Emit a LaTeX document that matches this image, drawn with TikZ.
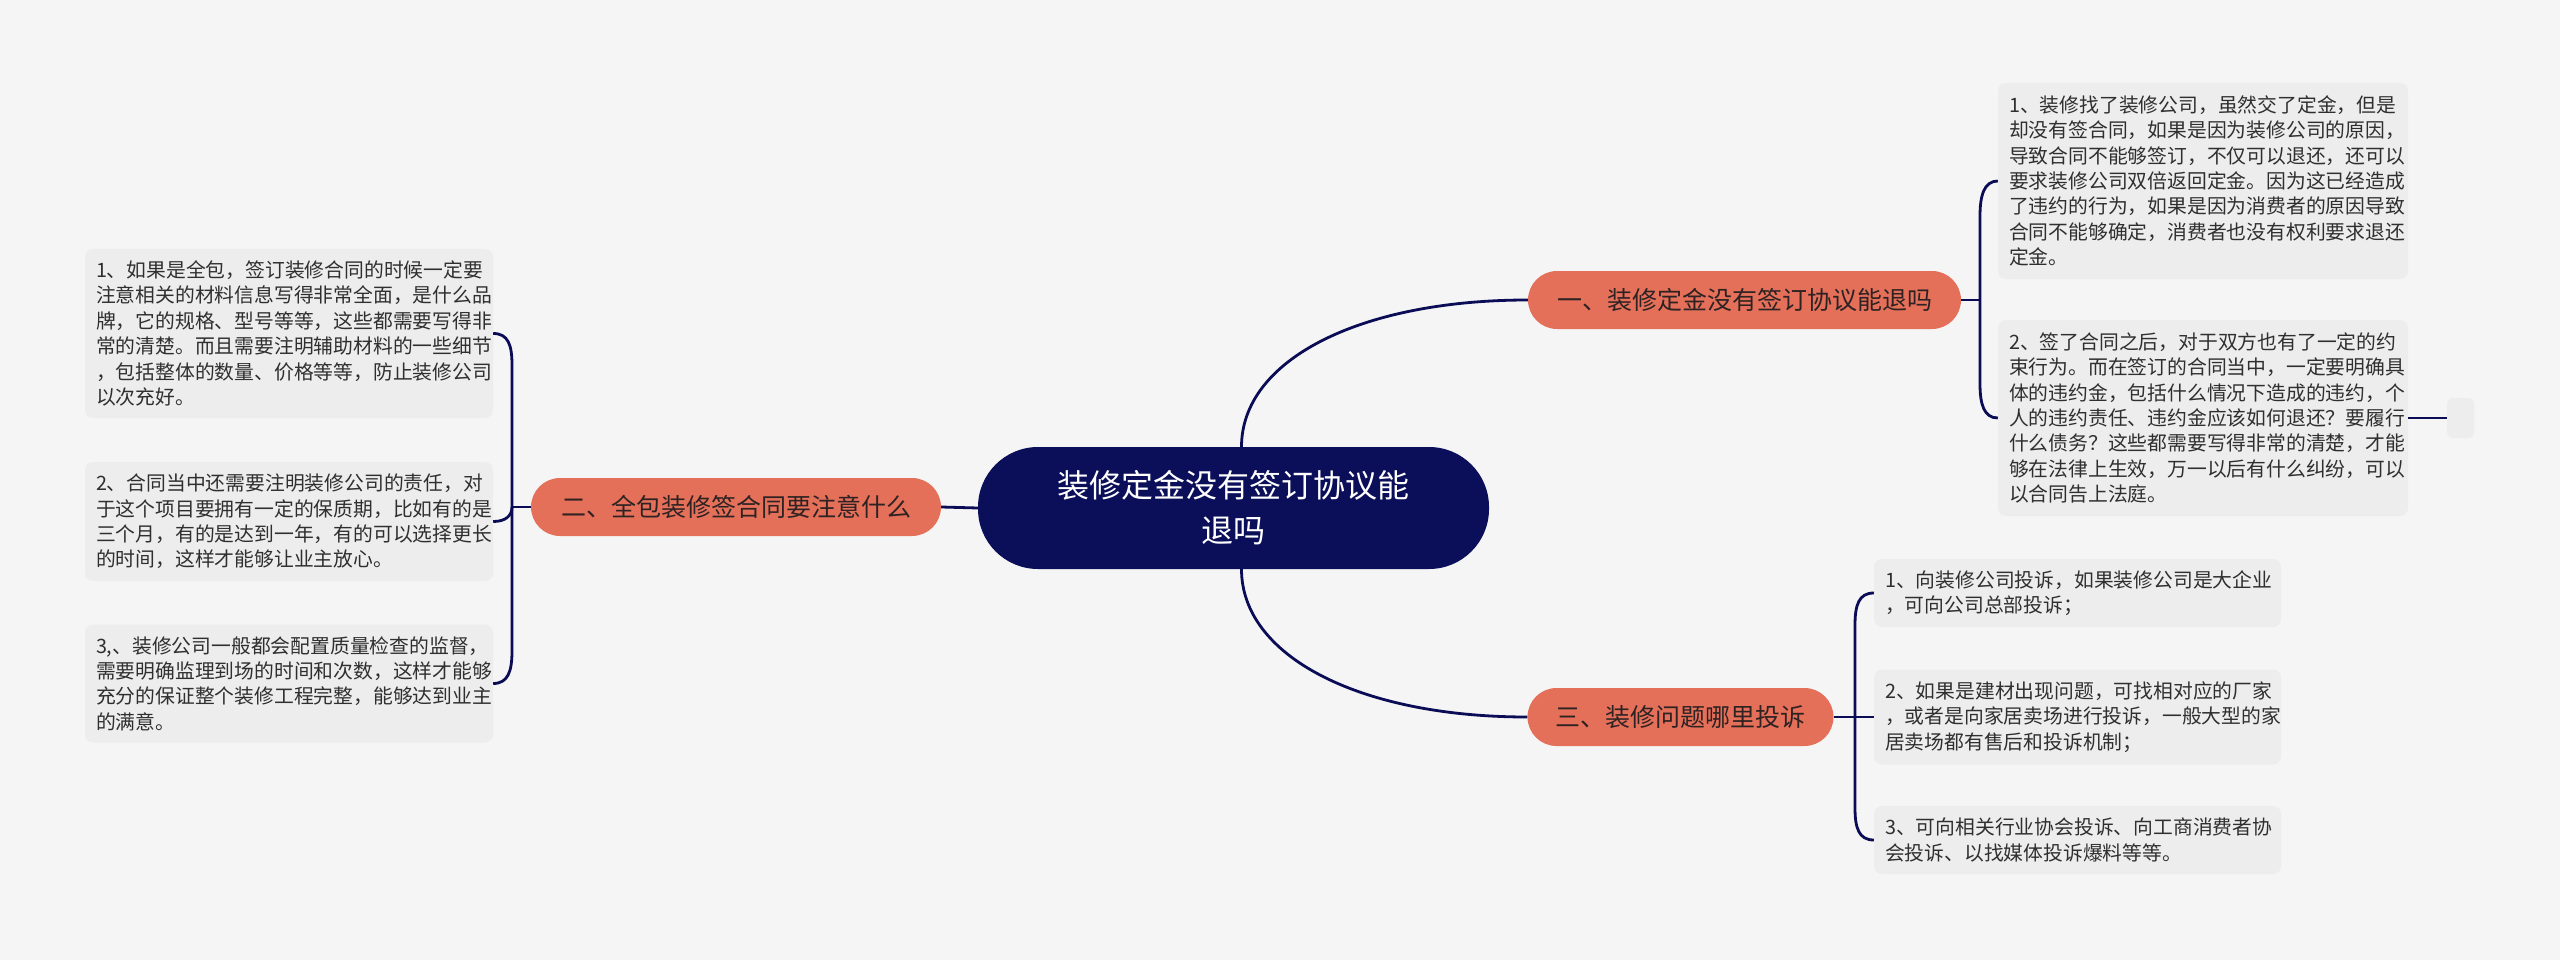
\documentclass[tikz,border=0pt]{standalone}
\usepackage{fontspec}
\setmainfont{Noto Sans CJK SC}
\definecolor{bg}{HTML}{F5F5F5}
\definecolor{navy}{HTML}{0A0C55}
\definecolor{navyfill}{HTML}{0B0E58}
\definecolor{orangefill}{HTML}{E4705A}
\definecolor{orangetext}{HTML}{2E2222}
\definecolor{leaffill}{HTML}{EDEDED}
\definecolor{leaftext}{HTML}{2F2F2F}
\tikzset{
  centernode/.style={fill=navyfill, text=white, rounded corners=60pt, minimum width=511pt, minimum height=122pt, align=center, inner sep=0pt, font=\fontsize{32pt}{45pt}\selectfont},
  topic/.style={fill=orangefill, text=orangetext, rounded corners=29pt, minimum height=58pt, inner sep=0pt, font=\fontsize{25pt}{30pt}\selectfont},
  leaf/.style={fill=leaffill, text=leaftext, rounded corners=8pt, inner xsep=11pt, inner ysep=0pt, align=left, font=\fontsize{19.8pt}{25.4pt}\selectfont},
  conn/.style={draw=navy, line width=2.8pt},
}
\begin{document}
\begin{tikzpicture}[x=1pt,y=-1pt]
\fill[bg] (0,0) rectangle (2560,960);
\useasboundingbox (0,0) rectangle (2560,960);

% central and topic nodes
\node[centernode] (c) at (1233.5,508) {装修定金没有签订协议能\\退吗};
\node[topic, minimum width=433pt] (n1) at (1744.5,300) {一、装修定金没有签订协议能退吗};
\node[topic, minimum width=410pt] (n2) at (736,507) {二、全包装修签合同要注意什么};
\node[topic, minimum width=306pt] (n3) at (1680.5,717) {三、装修问题哪里投诉};

% leaves of topic 1
\node[leaf, minimum width=410pt, text width=388pt, minimum height=196pt] (l1a) at (2203,181) {1、装修找了装修公司，虽然交了定金，但是\\却没有签合同，如果是因为装修公司的原因，\\导致合同不能够签订，不仅可以退还，还可以\\要求装修公司双倍返回定金。因为这已经造成\\了违约的行为，如果是因为消费者的原因导致\\合同不能够确定，消费者也没有权利要求退还\\定金。};
\node[leaf, minimum width=410pt, text width=388pt, minimum height=196pt] (l1b) at (2203,418) {2、签了合同之后，对于双方也有了一定的约\\束行为。而在签订的合同当中，一定要明确具\\体的违约金，包括什么情况下造成的违约，个\\人的违约责任、违约金应该如何退还？要履行\\什么债务？这些都需要写得非常的清楚，才能\\够在法律上生效，万一以后有什么纠纷，可以\\以合同告上法庭。};
\node[fill=leaffill, rounded corners=6pt, minimum width=27pt, minimum height=40pt, inner sep=0pt] (sm) at (2460.5,418) {};

% leaves of topic 3
\node[leaf, minimum width=407pt, text width=385pt, minimum height=68pt] (l3a) at (2077.5,593) {1、向装修公司投诉，如果装修公司是大企业\\，可向公司总部投诉；};
\node[leaf, minimum width=407pt, text width=385pt, minimum height=95pt] (l3b) at (2077.5,717) {2、如果是建材出现问题，可找相对应的厂家\\，或者是向家居卖场进行投诉，一般大型的家\\居卖场都有售后和投诉机制；};
\node[leaf, minimum width=407pt, text width=385pt, minimum height=68pt] (l3c) at (2077.5,840) {3、可向相关行业协会投诉、向工商消费者协\\会投诉、以找媒体投诉爆料等等。};

% leaves of topic 2
\node[leaf, minimum width=408pt, text width=386pt, minimum height=169pt] (l2a) at (289,333.5) {1、如果是全包，签订装修合同的时候一定要\\注意相关的材料信息写得非常全面，是什么品\\牌，它的规格、型号等等，这些都需要写得非\\常的清楚。而且需要注明辅助材料的一些细节\\，包括整体的数量、价格等等，防止装修公司\\以次充好。};
\node[leaf, minimum width=408pt, text width=386pt, minimum height=119pt] (l2b) at (289,521.5) {2、合同当中还需要注明装修公司的责任，对\\于这个项目要拥有一定的保质期，比如有的是\\三个月，有的是达到一年，有的可以选择更长\\的时间，这样才能够让业主放心。};
\node[leaf, minimum width=408pt, text width=386pt, minimum height=118pt] (l2c) at (289,683.5) {3,、装修公司一般都会配置质量检查的监督，\\需要明确监理到场的时间和次数，这样才能够\\充分的保证整个装修工程完整，能够达到业主\\的满意。};

% connectors from center
\draw[conn] ([xshift=8pt]c.north) .. controls +(0,-87) and +(-168,0) .. (n1.west);
\draw[conn] ([xshift=8pt]c.south) .. controls +(0,87) and +(-168,0) .. (n3.west);
\draw[conn] (c.west) -- (n2.east);

% bracket topic 1
\coordinate (b1) at (1980,300);
\draw[conn] (n1.east) -- (b1);
\draw[conn] (l1a.west) .. controls +(-14,0) and (1980,196) .. (1980,216) -- (1980,384) .. controls (1980,404) and +(-14,0) .. (l1b.west);
\draw[conn] (l1b.east) -- (sm.west);

% bracket topic 3
\coordinate (b3) at (1855,717);
\draw[conn] (n3.east) -- (l3b.west);
\draw[conn] (l3a.west) .. controls +(-15,0) and (1855,605) .. (1855,625) -- (1855,808) .. controls (1855,828) and +(-15,0) .. (l3c.west);

% bracket topic 2
\coordinate (b2) at (512,507);
\draw[conn] (n2.west) -- (b2);
\draw[conn] (l2a.east) .. controls +(15,0) and (512,345) .. (512,365) -- (512,651) .. controls (512,671) and +(15,0) .. (l2c.east);
\draw[conn] (l2b.east) .. controls +(12,0) and (512,516) .. (b2);
\end{tikzpicture}
\end{document}
